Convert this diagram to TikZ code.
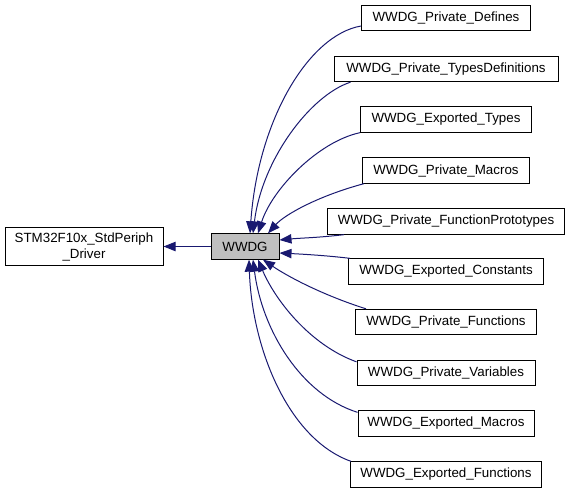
\documentclass[tikz,border=0pt]{standalone}
\usepackage{fontspec}
\setmainfont{Liberation Sans}
\usetikzlibrary{arrows.meta,positioning,calc}
\definecolor{linkblue}{HTML}{191970}
\definecolor{boxgray}{HTML}{BFBFBF}

\begin{document}
\begin{tikzpicture}[x=0.75pt, y=-0.75pt,
    box/.style={draw=black, line width=0.75pt, minimum height=19pt, inner sep=0pt,
        font=\fontsize{10}{12}\selectfont},
    dep/.style={draw=linkblue, line width=0.75pt, -{Triangle[length=9pt,width=7pt]}}]
    \useasboundingbox (0,0) rectangle (571,493);

    % Main group and parent
    \node[box, fill=boxgray, minimum width=51pt] (wwdg) at (245,246.5) {WWDG};
    \node[box, minimum width=118.5pt, minimum height=29pt, align=center] (driver) at (84,246.5)
        {STM32F10x\_StdPeriph\\\_Driver};

    % Subgroups
    \foreach \name/\y/\w/\label in {
        defines/18/126.75pt/WWDG\_Private\_Defines,
        typesdef/69/168pt/WWDG\_Private\_TypesDefinitions,
        exptypes/119.5/128.25pt/WWDG\_Exported\_Types,
        macros/170.5/125.25pt/WWDG\_Private\_Macros,
        fproto/221.5/177.75pt/WWDG\_Private\_FunctionPrototypes,
        expconst/271.5/146.25pt/WWDG\_Exported\_Constants,
        pfunc/322/135.75pt/WWDG\_Private\_Functions,
        pvars/373/133.5pt/WWDG\_Private\_Variables,
        expmacros/423.5/132pt/WWDG\_Exported\_Macros,
        expfunc/474.5/143.25pt/WWDG\_Exported\_Functions}
        \node[box, minimum width=\w] (\name) at (446,\y) {\label};

    % Parent link
    \draw[dep] (wwdg.west) -- (driver.east);

    % Links above
    \draw[dep] ($(defines.west)+(0,8)$) .. controls +(-52,9) and +(8,-114) .. ($(wwdg.north)+(5,0)$);
    \draw[dep] ($(typesdef.south west)+(17,0)$) .. controls +(-40,13) and +(9,-74) .. ($(wwdg.north)+(8,0)$);
    \draw[dep] (exptypes.south west) .. controls +(-42,9) and +(14,-44) .. ($(wwdg.north)+(13,0)$);
    \draw[dep] ($(macros.south west)+(2,0)$) .. controls +(-45,12) and +(17,-19) .. ($(wwdg.north)+(23,0)$);
    \draw[dep] ($(fproto.south west)+(17,0)$) .. controls +(-25,3) and +(21,-2) .. ($(wwdg.east)+(0,-6.5)$);

    % Links below
    \draw[dep] ($(expconst.north west)+(2,0)$) .. controls +(-25,-3) and +(20,1) .. ($(wwdg.east)+(0,6.5)$);
    \draw[dep] ($(pfunc.north west)+(11,0)$) .. controls +(-47,-15) and +(22,15) .. ($(wwdg.south)+(18,0)$);
    \draw[dep] ($(pvars.north west)+(0,2)$) .. controls +(-47,-17) and +(17,40) .. ($(wwdg.south)+(13,0)$);
    \draw[dep] ($(expmacros.north west)+(0,2)$) .. controls +(-57,-18) and +(9,70) .. ($(wwdg.south)+(8,0)$);
    \draw[dep] ($(expfunc.north west)+(1,0)$) .. controls +(-62,-22) and +(3,90) .. ($(wwdg.south)+(4,0)$);
\end{tikzpicture}
\end{document}
